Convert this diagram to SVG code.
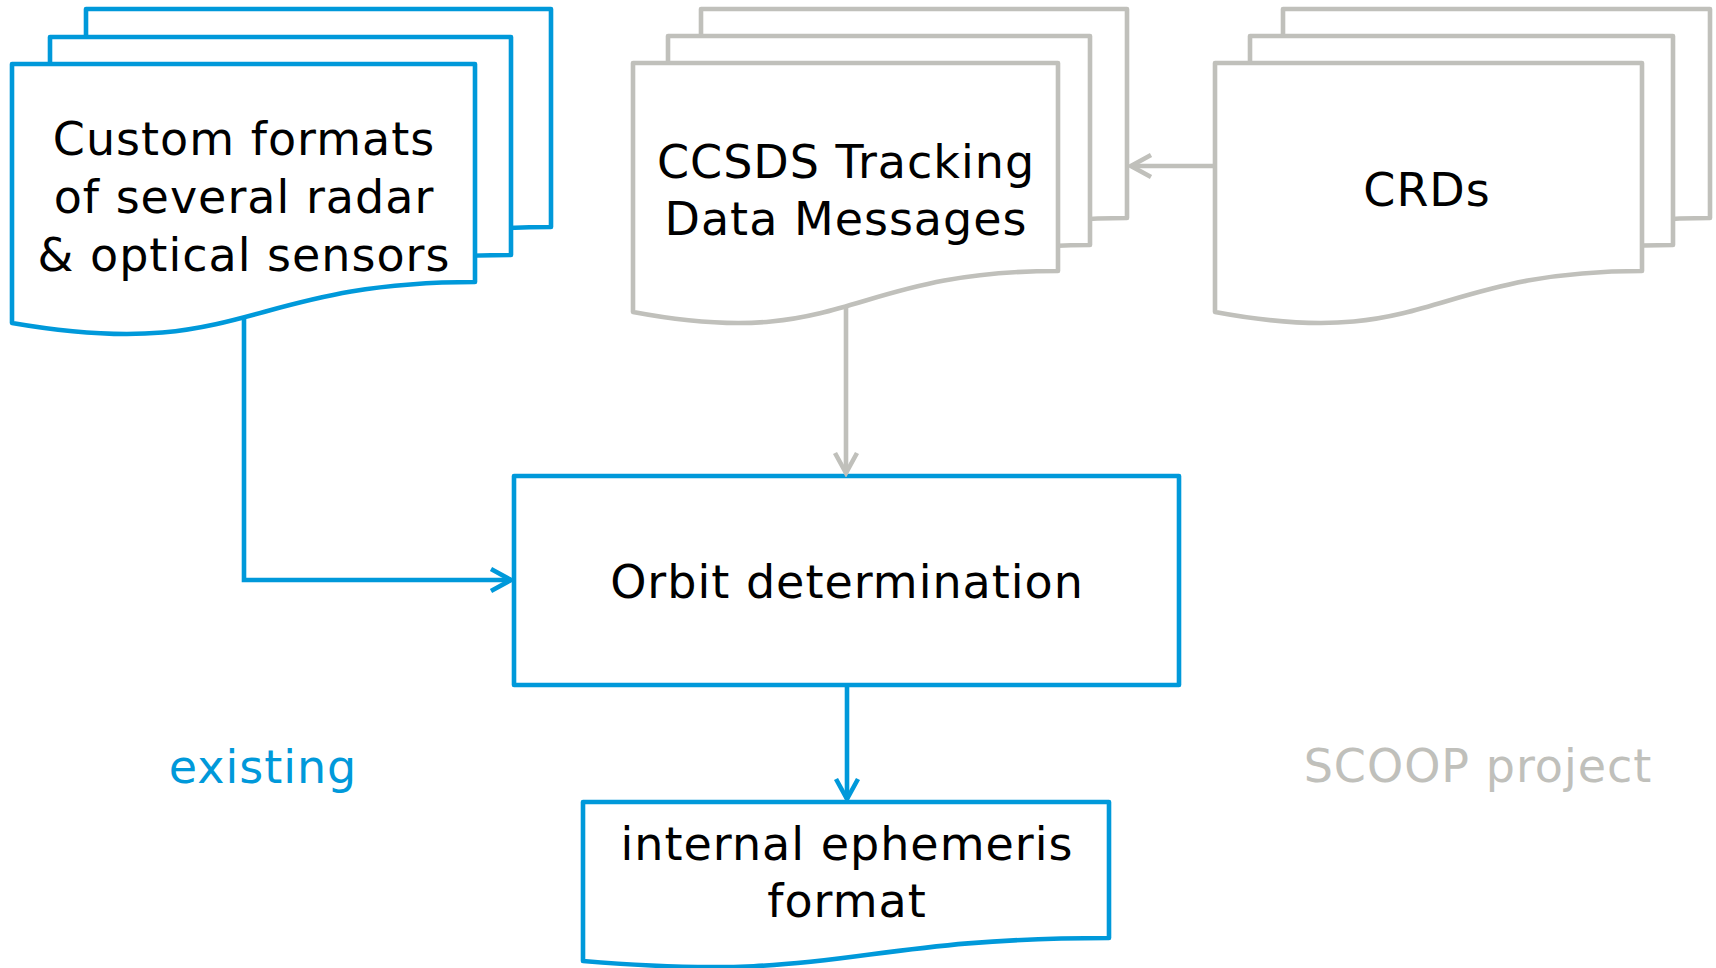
<svg xmlns="http://www.w3.org/2000/svg" width="1716" height="968" viewBox="0 0 1716 968">
  <style>
    .blue { fill: #ffffff; stroke: #0099da; stroke-width: 4.6; stroke-linejoin: round; }
    .gray { fill: #ffffff; stroke: #c0c0bb; stroke-width: 4.6; stroke-linejoin: round; }
    .lbl { font-family: "DejaVu Sans", Verdana, sans-serif; font-size: 46px; letter-spacing: 1px; text-anchor: middle; fill: #000000; }
    .edge-blue { fill: none; stroke: #0099da; stroke-width: 4.6; }
    .edge-gray { fill: none; stroke: #c0c0bb; stroke-width: 4.6; }
  </style>
  <defs>
    <marker id="arrow-blue" markerUnits="userSpaceOnUse" viewBox="-24 -14 28 28" refX="0" refY="0" markerWidth="28" markerHeight="28" orient="auto">
      <path d="M-20,-11 L0,0 L-20,11" fill="none" stroke="#0099da" stroke-width="4.6" stroke-linejoin="miter"/>
    </marker>
    <marker id="arrow-gray" markerUnits="userSpaceOnUse" viewBox="-24 -14 28 28" refX="0" refY="0" markerWidth="28" markerHeight="28" orient="auto">
      <path d="M-20,-11 L0,0 L-20,11" fill="none" stroke="#c0c0bb" stroke-width="4.6" stroke-linejoin="miter"/>
    </marker>
  </defs>

  <rect width="1716" height="968" fill="#ffffff"/>

  <!-- stacked documents: sensor formats -->
  <g id="custom-formats">
    <path class="blue" d="M86,9 H551 V227 C318.5,227 318.5,308 86,268 Z"/>
    <path class="blue" d="M50,37 H511 V255 C280.5,255 280.5,336 50,296 Z"/>
    <path class="blue" d="M12,64 H475 V282 C243.5,282 243.5,363 12,323 Z"/>
    <text class="lbl" x="244" y="155">Custom formats</text>
    <text class="lbl" x="244" y="213">of several radar</text>
    <text class="lbl" x="244" y="271">&amp; optical sensors</text>
  </g>

  <!-- stacked documents: CCSDS TDM -->
  <g id="ccsds-tdm">
    <path class="gray" d="M701,9 H1127 V218 C914,218 914,299 701,259 Z"/>
    <path class="gray" d="M668,36 H1090 V245 C879,245 879,326 668,286 Z"/>
    <path class="gray" d="M633,63 H1058 V271 C845.5,271 845.5,352 633,312 Z"/>
    <text class="lbl" x="846" y="178">CCSDS Tracking</text>
    <text class="lbl" x="846" y="235">Data Messages</text>
  </g>

  <!-- stacked documents: CRDs -->
  <g id="crds">
    <path class="gray" d="M1283,9 H1710 V218 C1496.5,218 1496.5,299 1283,259 Z"/>
    <path class="gray" d="M1250,36 H1673 V245 C1461.5,245 1461.5,326 1250,286 Z"/>
    <path class="gray" d="M1215,63 H1642 V271 C1428.5,271 1428.5,352 1215,312 Z"/>
    <text class="lbl" x="1427" y="206">CRDs</text>
  </g>

  <!-- process box -->
  <g id="orbit-determination">
    <rect class="blue" x="514" y="476" width="665" height="209"/>
    <text class="lbl" x="847" y="598">Orbit determination</text>
  </g>

  <!-- output document -->
  <g id="internal-ephemeris">
    <path class="blue" d="M583,802 H1109 V938 C846,938 846,983 583,961 Z"/>
    <text class="lbl" x="847" y="860">internal ephemeris</text>
    <text class="lbl" x="847" y="917">format</text>
  </g>

  <!-- legend -->
  <g id="legend-existing">
    <text class="lbl" x="263" y="783" style="fill:#0099da">existing</text>
  </g>
  <g id="legend-scoop">
    <text class="lbl" x="1478" y="782" style="fill:#c0c0bb">SCOOP project</text>
  </g>

  <!-- connectors -->
  <g id="connectors">
    <path class="edge-blue" d="M244,318 V580 H511" marker-end="url(#arrow-blue)"/>
    <path class="edge-gray" d="M846,307 V473" marker-end="url(#arrow-gray)"/>
    <path class="edge-gray" d="M1213,166 H1131" marker-end="url(#arrow-gray)"/>
    <path class="edge-blue" d="M847,687 V799" marker-end="url(#arrow-blue)"/>
  </g>
</svg>
